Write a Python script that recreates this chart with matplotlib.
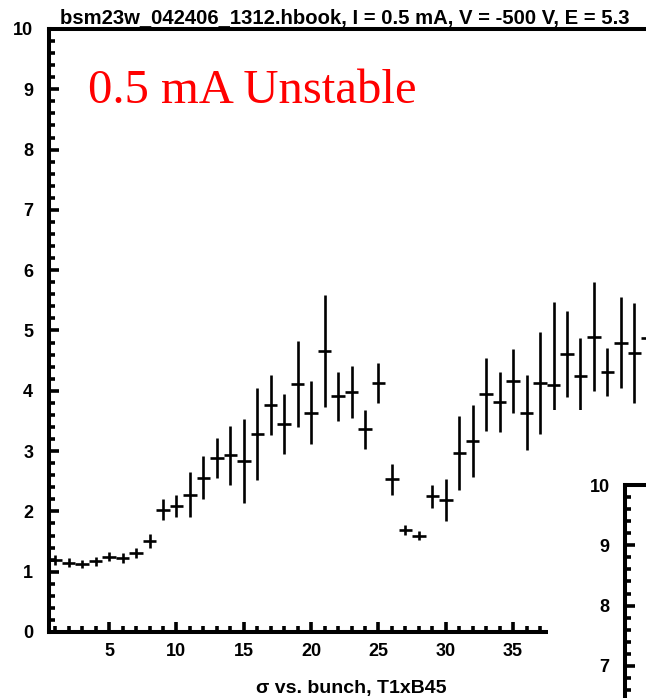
import matplotlib
matplotlib.use('Agg')
import matplotlib.pyplot as plt
from matplotlib.patches import Rectangle
from matplotlib.ticker import MultipleLocator, FuncFormatter

# sigma per bunch
bunch = list(range(1, 46))
sigma = [1.19, 1.15, 1.13, 1.17, 1.25, 1.23, 1.31, 1.51, 2.03, 2.09,
         2.28, 2.56, 2.88, 2.93, 2.84, 3.28, 3.77, 3.45, 4.11, 3.64,
         4.66, 3.91, 3.98, 3.36, 4.13, 2.53, 1.69, 1.60, 2.25, 2.19,
         2.97, 3.17, 3.94, 3.81, 4.17, 3.64, 4.13, 4.10, 4.61, 4.25,
         4.90, 4.31, 4.80, 4.62, 4.88]
sigma_err = [0.08, 0.07, 0.07, 0.08, 0.08, 0.08, 0.08, 0.12, 0.18, 0.19,
             0.38, 0.36, 0.33, 0.49, 0.70, 0.76, 0.50, 0.50, 0.71, 0.53,
             0.93, 0.41, 0.43, 0.32, 0.33, 0.25, 0.08, 0.07, 0.19, 0.35,
             0.62, 0.60, 0.61, 0.50, 0.53, 0.62, 0.84, 1.37, 0.72, 0.62,
             0.90, 0.40, 0.75, 0.83, 2.72]

title_text = 'bsm23w_042406_1312.hbook, I = 0.5 mA, V = -500 V, E = 5.3'
note_text = '0.5 mA Unstable'
xlabel_text = 'σ vs. bunch, T1xB45'

W, H = 646, 698
plt.rcParams['font.family'] = ['Liberation Sans', 'DejaVu Sans']
plt.rcParams['font.weight'] = 'bold'

fig = plt.figure(figsize=(W / 100, H / 100), dpi=100)


def style_axes(ax, xmax_label, ymin_label):
    ax.set_xlim(0.5, 45.5)
    ax.set_ylim(0, 10)
    for s in ax.spines.values():
        s.set_linewidth(2.9)
    ax.xaxis.set_major_locator(MultipleLocator(5))
    ax.xaxis.set_minor_locator(MultipleLocator(1))
    ax.yaxis.set_major_locator(MultipleLocator(1))
    ax.yaxis.set_minor_locator(MultipleLocator(0.2))
    # only label the ticks that show in the picture
    ax.xaxis.set_major_formatter(FuncFormatter(lambda v, p: f'{v:.0f}' if v <= xmax_label else ''))
    ax.yaxis.set_major_formatter(FuncFormatter(lambda v, p: f'{v:.0f}' if v >= ymin_label else ''))
    ax.tick_params(which='both', direction='in', top=False, right=False, width=2.6)
    ax.tick_params(which='major', length=7.5)
    ax.tick_params(which='minor', length=4)
    ax.tick_params(axis='y', which='major', pad=11, labelsize=13)
    ax.tick_params(axis='x', which='major', pad=8, labelsize=13)
    for lab in ax.get_xticklabels() + ax.get_yticklabels():
        lab.set_fontweight('bold')


# main panel
ax = fig.add_axes([48.5 / W, (H - 632) / H, 606 / W, 603 / H])
style_axes(ax, 35, 0)
ax.errorbar(bunch, sigma, xerr=0.5, yerr=sigma_err, fmt='none',
            ecolor='black', elinewidth=1.9, capsize=0)
ax.set_xlabel(xlabel_text, fontsize=14, fontweight='bold', labelpad=14)

fig.text(60 / W, 1 - 24 / H, title_text, fontsize=14.6, fontweight='bold',
         ha='left', va='baseline')
fig.text(88 / W, 1 - 103 / H, note_text, family='Liberation Serif',
         fontweight='normal', fontsize=35, color='red', ha='left', va='baseline')

# white block from the next panel covering the lower right corner
fig.add_artist(Rectangle((548 / W, 0), 1 - 548 / W, 288 / H,
                         transform=fig.transFigure, facecolor='white',
                         edgecolor='none', zorder=1))

# next panel, mostly outside the picture
ax2 = fig.add_axes([625 / W, (H - 485 - 603) / H, 606 / W, 603 / H])
ax2.set_zorder(2)
style_axes(ax2, -1, 7)

fig.savefig('out.png', dpi=100)
